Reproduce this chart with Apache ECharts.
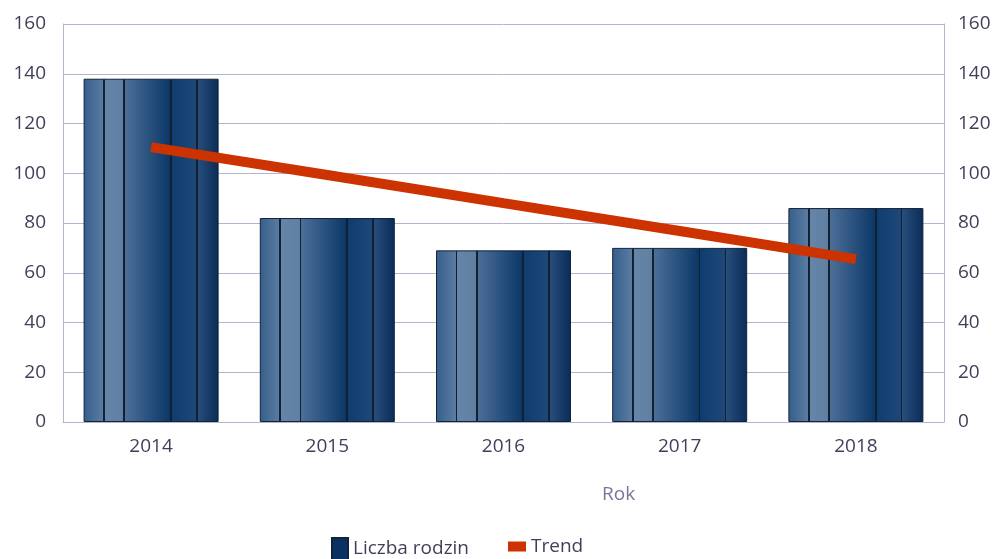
<!DOCTYPE html>
<html>
<head>
<meta charset="utf-8">
<script src="https://cdn.jsdelivr.net/npm/echarts@6/dist/echarts.min.js"></script>
<style>
  html, body { margin: 0; padding: 0; background: #fff; }
  #chart { width: 999px; height: 559px; }
</style>
</head>
<body>
<div id="chart"></div>
<script>
const years = ['2014', '2015', '2016', '2017', '2018'];
const families = [138, 82, 69, 70, 86];
const trend = [110.5, 99.3, 88, 76.8, 65.5];
const yTicks = { min: 0, max: 160, interval: 20 };

const line = '#141f30';
const barGradient = new echarts.graphic.LinearGradient(0, 0, 1, 0, [
  { offset: 0, color: '#365e8b' },
  { offset: 0.145, color: '#597ca2' },
  { offset: 0.145, color: line },
  { offset: 0.158, color: line },
  { offset: 0.158, color: '#6685a7' },
  { offset: 0.295, color: '#5f80a4' },
  { offset: 0.295, color: line },
  { offset: 0.308, color: line },
  { offset: 0.308, color: '#4c6f97' },
  { offset: 0.64, color: '#0b3768' },
  { offset: 0.64, color: line },
  { offset: 0.653, color: line },
  { offset: 0.653, color: '#0f3d70' },
  { offset: 0.832, color: '#1d4878' },
  { offset: 0.832, color: line },
  { offset: 0.845, color: line },
  { offset: 0.845, color: '#274e7c' },
  { offset: 1, color: '#0a2b57' }
]);

const chart = echarts.init(document.getElementById('chart'));
const labelColor = '#3f3f5a';
const gridColor = '#b4b4cc';
const fs = 19;

chart.setOption({
  animation: false,
  textStyle: { fontFamily: 'Open Sans' },
  grid: { left: 63, right: 55, top: 24, bottom: 137 },
  legend: [
    {
      data: [{ name: 'Liczba rodzin', icon: 'rect', itemStyle: { color: '#0b3163' } }],
      left: 331, top: 537, padding: 0, itemWidth: 16, itemHeight: 22, itemGap: 4,
      textStyle: { color: labelColor, fontSize: fs, fontFamily: 'Open Sans' }
    },
    {
      data: [{ name: 'Trend', icon: 'rect', itemStyle: { color: '#cc3300' } }],
      left: 508, top: 537, padding: 0, itemWidth: 18, itemHeight: 10, itemGap: 4,
      textStyle: { color: labelColor, fontSize: fs, fontFamily: 'Open Sans' }
    }
  ],
  graphic: [{
    type: 'text', left: 602, top: 485,
    style: { text: 'Rok', fill: '#76769a', fontSize: fs, fontFamily: 'Open Sans' }
  }],
  xAxis: {
    type: 'category',
    data: years,
    axisLine: { lineStyle: { color: gridColor } },
    axisTick: { show: false },
    axisLabel: { color: labelColor, fontSize: fs, margin: 15 }
  },
  yAxis: [
    {
      type: 'value', ...yTicks,
      axisLine: { show: true, lineStyle: { color: gridColor } },
      axisTick: { show: false },
      splitLine: { lineStyle: { color: gridColor } },
      axisLabel: { color: labelColor, fontSize: fs, margin: 17 }
    },
    {
      type: 'value', ...yTicks, position: 'right',
      axisLine: { show: true, lineStyle: { color: gridColor } },
      axisTick: { show: false },
      splitLine: { show: false },
      axisLabel: { color: labelColor, fontSize: fs, margin: 14 }
    }
  ],
  series: [
    {
      name: 'Liczba rodzin',
      type: 'bar',
      data: families,
      barWidth: 135,
      itemStyle: { color: barGradient, borderColor: '#13233a', borderWidth: 1 }
    },
    {
      name: 'Trend',
      type: 'line',
      data: trend,
      showSymbol: false,
      symbol: 'none',
      lineStyle: { color: '#cc3300', width: 10, cap: 'butt' },
      itemStyle: { color: '#cc3300' },
      z: 5
    }
  ]
});
</script>
</body>
</html>
